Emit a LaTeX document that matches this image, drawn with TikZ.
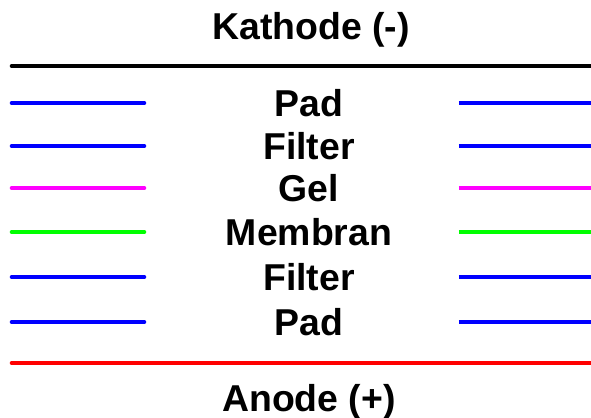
\documentclass[tikz,border=0pt]{standalone}
\usepackage{fontspec}
\setmainfont{Liberation Sans}
\definecolor{gelpink}{RGB}{255,0,255}
\begin{document}
\begin{tikzpicture}[x=0.5pt,y=-0.5pt,line width=2.3pt,
  lbl/.style={font=\bfseries\fontsize{18.7}{20}\selectfont,anchor=base,inner sep=0pt}]
\useasboundingbox (0,0) rectangle (591,418);

% electrode on top
\node[lbl] (kathode) at (311,39) {Kathode (-)};
\draw[black,line cap=round] (12,66) -- (591,66);

% layers of the stack
\foreach \y/\c/\t [count=\i] in {103/blue/Pad,146/blue/Filter,188/gelpink/Gel,232/green/Membran,277/blue/Filter,322/blue/Pad} {
        \draw[\c,line cap=round] (12,\y) -- (144,\y);
        \draw[\c] (459,\y) -- (591,\y);
        \node[lbl] (layer\i) at (309,\y+13) {\t};
 }

% electrode at the bottom
\draw[red,line cap=round] (12,363) -- (591,363);
\node[lbl] (anode) at (309,411) {Anode (+)};
\end{tikzpicture}
\end{document}
